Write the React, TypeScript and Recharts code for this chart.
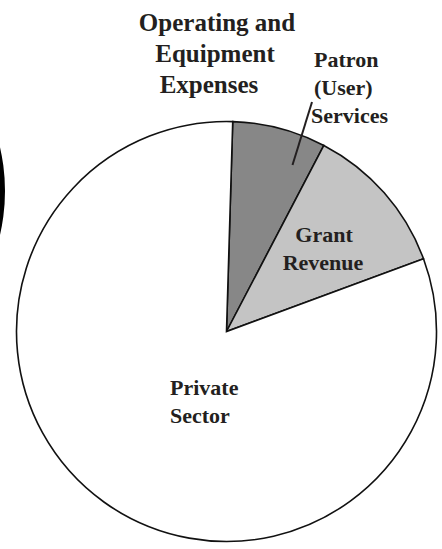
import React from 'react';
import { PieChart, Pie, Cell } from 'recharts';

// ---- data ----
const categories = ['Patron (User) Services', 'Grant Revenue', 'Private Sector'];
const shares = [7.2, 11.7, 81.1];
const sliceColors = ['#878787', '#c4c4c4', '#ffffff'];
const neighbourShare = [100];

const data = categories.map((name, i) => ({ name, value: shares[i] }));
const neighbourData = neighbourShare.map((value) => ({ name: 'neighbour', value }));

// ---- label layout (block index -> slice index it is drawn with) ----
type LabelBlock = { slice: number; lines: string[]; xs: number[]; y: number; anchor: 'start' | 'middle'; size: number; lh: number };
const labelBlocks: LabelBlock[] = [
  { slice: 0, lines: ['Operating and', 'Equipment', 'Expenses'], xs: [217, 215, 209], y: 31, anchor: 'middle', size: 25, lh: 31 },
  { slice: 0, lines: ['Patron', '(User)', 'Services'], xs: [314, 314, 311], y: 67, anchor: 'start', size: 22, lh: 28 },
  { slice: 1, lines: ['Grant', 'Revenue'], xs: [324, 323], y: 242, anchor: 'middle', size: 22, lh: 28 },
  { slice: 2, lines: ['Private', 'Sector'], xs: [170, 170], y: 395, anchor: 'start', size: 22, lh: 28 },
];

const FONT = '"Liberation Serif", "Times New Roman", serif';
const INK = '#231f20';

const renderLabel = (props: any) => {
  const idx = props.index;
  const blocks = labelBlocks.filter((b) => b.slice === idx);
  return (
    <g key={`lbl-${idx}`}>
      {blocks.map((b, bi) => (
        <text key={bi} fontFamily={FONT} fontWeight="bold" fontSize={b.size} fill={INK} textAnchor={b.anchor} stroke="none">
          {b.lines.map((l, li) => (
            <tspan key={li} x={b.xs[li]} y={b.y + li * b.lh}>
              {l}
            </tspan>
          ))}
        </text>
      ))}
      {idx === 0 && <line x1={292.5} y1={165} x2={312} y2={102} stroke={INK} strokeWidth={2} />}
    </g>
  );
};

export default function App() {
  return (
    <div style={{ position: 'absolute', left: 0, top: 0, width: 442, height: 549, background: '#fff' }}>
      <PieChart width={442} height={549} margin={{ top: 0, right: 0, bottom: 0, left: 0 }}>
        <Pie
          data={neighbourData}
          dataKey="value"
          cx={-190}
          cy={191}
          outerRadius={195}
          fill="#000"
          stroke="none"
          label={false}
          labelLine={false}
          isAnimationActive={false}
        />
        <Pie
          data={data}
          dataKey="value"
          cx={226.5}
          cy={331.5}
          outerRadius={210}
          startAngle={88.3}
          endAngle={-271.7}
          stroke="#111"
          strokeWidth={1.6}
          label={renderLabel}
          labelLine={false}
          isAnimationActive={false}
        >
          {data.map((d, i) => (
            <Cell key={d.name} fill={sliceColors[i]} />
          ))}
        </Pie>
      </PieChart>
    </div>
  );
}
